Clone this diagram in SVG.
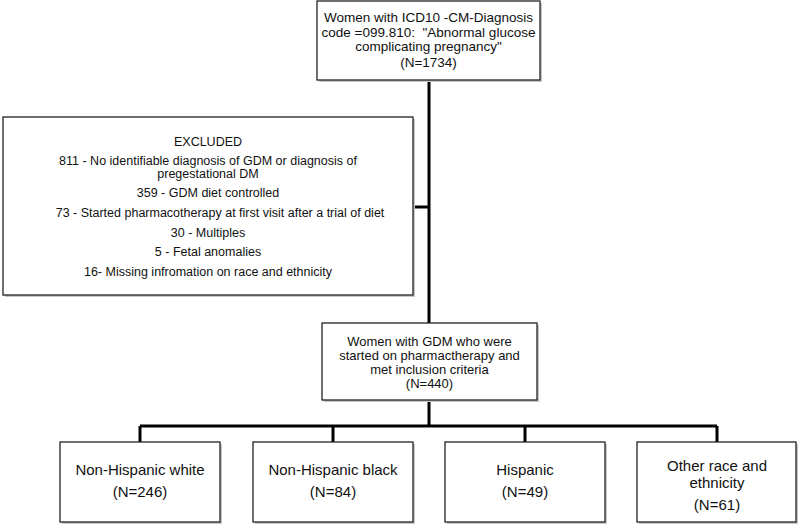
<svg xmlns="http://www.w3.org/2000/svg" width="800" height="528" viewBox="0 0 800 528">
<style>
.box{fill:#fff;stroke:#222;stroke-width:1.3}
.sh{fill:#c8c8c8}
.t{font-family:"Liberation Sans",Arial,sans-serif;fill:#111;text-anchor:middle}
.t14{font-size:13.5px}
.t13{font-size:12.5px}
.tm{font-size:13px}
.t15{font-size:15px}
.c{stroke:#000;stroke-width:3;fill:none}
</style>
<rect width="800" height="528" fill="#fff"/>
<g id="connectors">
<path class="c" d="M429,80 V323"/>
<path class="c" d="M413,207 H429"/>
<path class="c" d="M429,400 V426"/>
<path class="c" d="M140,426 H717"/>
<path class="c" d="M140,426 V442 M333,426 V442 M525,426 V442 M717,426 V442"/>
</g>
<g id="n_top">
<rect class="sh" x="319" y="3" width="223" height="79"/>
<rect class="box" x="317" y="1" width="223" height="79"/>
<text class="t t14" x="428.5" y="22">Women with ICD10 -CM-Diagnosis</text>
<text class="t t14" x="428.5" y="37" xml:space="preserve">code =099.810:  "Abnormal glucose</text>
<text class="t t14" x="428.5" y="51">complicating pregnancy"</text>
<text class="t t14" x="428.5" y="67">(N=1734)</text>
</g>
<g id="n_excluded">
<rect class="sh" x="5" y="119" width="410" height="178"/>
<rect class="box" x="3" y="117" width="410" height="178"/>
<text class="t t13" x="208" y="146">EXCLUDED</text>
<text class="t t13" x="208" y="165">811 - No identifiable diagnosis of GDM or diagnosis of</text>
<text class="t t13" x="208" y="178">pregestational DM</text>
<text class="t t13" x="208" y="197">359 - GDM diet controlled</text>
<text class="t t13" x="220" y="217">73 - Started pharmacotherapy at first visit after a trial of diet</text>
<text class="t t13" x="208" y="237">30 - Multiples</text>
<text class="t t13" x="208" y="256">5 - Fetal anomalies</text>
<text class="t t13" x="208" y="276">16- Missing infromation on race and ethnicity</text>
</g>
<g id="n_included">
<rect class="sh" x="324" y="325" width="215" height="77"/>
<rect class="box" x="322" y="323" width="215" height="77"/>
<text class="t tm" x="429.5" y="346">Women with GDM who were</text>
<text class="t tm" x="429.5" y="360">started on pharmactherapy and</text>
<text class="t tm" x="429.5" y="374">met inclusion criteria</text>
<text class="t tm" x="429.5" y="388">(N=440)</text>
</g>
<g id="n_white">
<rect class="sh" x="62" y="444" width="160" height="80"/>
<rect class="box" x="60" y="442" width="160" height="80"/>
<text class="t t15" x="140" y="475">Non-Hispanic white</text>
<text class="t t15" x="140" y="497">(N=246)</text>
</g>
<g id="n_black">
<rect class="sh" x="255" y="444" width="160" height="80"/>
<rect class="box" x="253" y="442" width="160" height="80"/>
<text class="t t15" x="333" y="475">Non-Hispanic black</text>
<text class="t t15" x="333" y="497">(N=84)</text>
</g>
<g id="n_hispanic">
<rect class="sh" x="447" y="444" width="160" height="80"/>
<rect class="box" x="445" y="442" width="160" height="80"/>
<text class="t t15" x="525" y="475">Hispanic</text>
<text class="t t15" x="525" y="497">(N=49)</text>
</g>
<g id="n_other">
<rect class="sh" x="639" y="444" width="159" height="80"/>
<rect class="box" x="637" y="442" width="159" height="80"/>
<text class="t t15" x="717" y="471">Other race and</text>
<text class="t t15" x="717" y="488">ethnicity</text>
<text class="t t15" x="717" y="510">(N=61)</text>
</g>
</svg>
